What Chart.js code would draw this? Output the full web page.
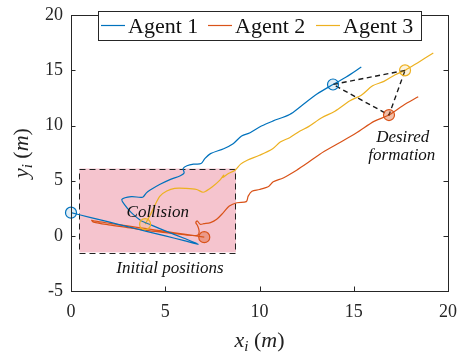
<!DOCTYPE html>
<html>
<head>
<meta charset="utf-8">
<script src="https://cdn.jsdelivr.net/npm/chart.js@4.4.1/dist/chart.umd.min.js"></script>
<style>
  html, body { margin: 0; padding: 0; background: #fff; }
  #grafico { display: block; }
</style>
</head>
<body>
<canvas id="grafico" width="470" height="359"></canvas>
<script>
// --- dados ---
const agentNames = ['Agent 1', 'Agent 2', 'Agent 3'];
const agentColors = ['#0072BD', '#D95319', '#EDB120'];

const agent1X = [0, 1, 2, 3, 4, 5, 6, 6.75, 6.0, 5.0, 4.3, 3.7, 3.2, 2.85, 2.7, 3.2, 3.8, 4.0, 4.2, 4.7, 5.25, 5.8, 6.0, 5.95, 6.15, 6.5, 6.9, 7.1, 7.4, 8.1, 8.6, 9.05, 9.5, 10.1, 10.7, 11.6, 12.2, 13.05, 13.9, 14.6, 15.4];
const agent1Y = [2.1, 1.68, 1.26, 0.83, 0.41, -0.01, -0.43, -0.75, -0.22, 0.45, 0.95, 1.4, 2.1, 2.8, 3.3, 3.55, 3.5, 3.9, 4.15, 4.65, 5.1, 5.45, 5.7, 6.1, 6.35, 6.5, 6.55, 7.0, 7.45, 7.9, 8.35, 9.05, 9.35, 9.95, 10.4, 11.0, 11.75, 12.85, 13.72, 14.4, 15.3];

const agent2X = [7.07, 6.0, 5.0, 4.0, 3.0, 2.0, 1.3, 1.1, 1.2, 2.0, 3.0, 4.0, 5.0, 6.0, 6.7, 6.8, 6.72, 6.62, 6.7, 6.85, 7.05, 7.4, 7.73, 8.08, 8.4, 8.8, 9.3, 9.4, 9.6, 10.0, 10.5, 10.73, 11.26, 11.97, 12.5, 13.2, 14.1, 15.15, 16.1, 16.87, 17.6, 18.42];
const agent2Y = [-0.12, 0.15, 0.4, 0.65, 0.9, 1.15, 1.33, 1.4, 1.25, 1.0, 0.75, 0.5, 0.3, 0.1, 0.05, 0.4, 0.9, 1.2, 1.35, 1.05, 1.1, 1.2, 1.5, 2.1, 2.7, 3.0, 3.1, 3.6, 4.05, 4.2, 4.5, 4.9, 5.25, 5.95, 6.55, 7.4, 8.3, 9.35, 10.4, 10.95, 11.8, 12.6];

const agent3X = [3.93, 4.2, 4.4, 4.72, 5.08, 5.5, 6.1, 6.67, 7.0, 7.2, 7.5, 7.9, 8.1, 8.05, 8.35, 8.7, 9.0, 9.35, 10.0, 10.7, 11.1, 11.6, 12.15, 12.6, 13.3, 14.0, 14.8, 15.4, 16.0, 16.6, 17.2, 17.72, 18.4, 19.22];
const agent3Y = [1.06, 1.86, 2.6, 3.6, 4.06, 4.3, 4.3, 4.2, 3.95, 4.1, 4.45, 5.05, 5.5, 5.3, 5.65, 5.95, 6.5, 6.85, 7.3, 7.9, 8.5, 8.9, 9.5, 9.9, 10.7, 11.3, 12.25, 12.75, 13.6, 14.0, 14.6, 15.0, 15.7, 16.57];

// posicoes iniciais e formacao desejada (Agent 1, Agent 2, Agent 3)
const startX = [0, 7.07, 3.93];
const startY = [2.1, -0.12, 1.06];
const finalX = [13.9, 16.87, 17.72];
const finalY = [13.72, 10.95, 15.0];

// regiao das posicoes iniciais
const regionX = [0.45, 8.75];
const regionY = [-1.5, 6.1];

// anotacoes
const noteTexts = ['Collision', 'Initial positions', 'Desired', 'formation'];
const noteX = [4.6, 5.25, 17.6, 17.55];
const noteY = [2.15, -3.0, 8.92, 7.3];

const xTicks = [0, 5, 10, 15, 20];
const yTicks = [-5, 0, 5, 10, 15, 20];

const FONTE = "'Liberation Serif', 'Times New Roman', serif";
const EIXO = '#262626';

function pontos(xs, ys) {
    return xs.map((x, i) => ({ x: x, y: ys[i] }));
}

function trajetoria(i, xs, ys) {
    return {
        label: agentNames[i],
        data: pontos(xs, ys),
        showLine: true,
        borderColor: agentColors[i],
        borderWidth: 1.2,
        pointRadius: 0,
        tension: 0.3,
        order: 5
    };
}

function marcador(xs, ys, i, fill) {
    return {
        label: 'm',
        data: [{ x: xs[i], y: ys[i] }],
        showLine: false,
        pointRadius: 5.5,
        pointBorderWidth: 1.2,
        pointBorderColor: agentColors[i],
        pointBackgroundColor: fill,
        clip: false,
        order: 1
    };
}

const preenchimentos = ['rgba(0,114,189,0.12)', 'rgba(217,83,25,0.38)', 'rgba(237,177,32,0.15)'];

// arestas da formacao (pontilhadas)
const formacao = {
    label: 'formacao',
    data: [
        { x: finalX[2], y: finalY[2] }, { x: finalX[0], y: finalY[0] },
        { x: finalX[1], y: finalY[1] }, { x: finalX[2], y: finalY[2] }
    ],
    showLine: true,
    borderColor: '#1a1a1a',
    borderWidth: 1.4,
    borderDash: [5, 3.5],
    pointRadius: 0,
    order: 2
};

// --- plugins de desenho ---
const regiaoPlugin = {
    id: 'regiao',
    beforeDatasetsDraw(chart) {
        const { ctx, scales: { x, y } } = chart;
        const x0 = x.getPixelForValue(regionX[0]), x1 = x.getPixelForValue(regionX[1]);
        const y0 = y.getPixelForValue(regionY[1]), y1 = y.getPixelForValue(regionY[0]);
        ctx.save();
        ctx.fillStyle = '#F5C4CE';
        ctx.fillRect(x0, y0, x1 - x0, y1 - y0);
        ctx.setLineDash([6, 4]);
        ctx.strokeStyle = '#222';
        ctx.lineWidth = 1;
        ctx.strokeRect(Math.round(x0) + 0.5, Math.round(y0) + 0.5, Math.round(x1 - x0), Math.round(y1 - y0));
        ctx.restore();
    }
};

function desenhaMath(ctx, partes, cx, base) {
    let largura = 0;
    partes.forEach(p => {
        ctx.font = p.f;
        largura += ctx.measureText(p.t).width;
    });
    let px = cx - largura / 2;
    partes.forEach(p => {
        ctx.font = p.f;
        ctx.fillText(p.t, px, base + (p.dy || 0));
        px += ctx.measureText(p.t).width;
    });
}

const molduraPlugin = {
    id: 'moldura',
    afterDatasetsDraw(chart) {
        const { ctx, scales: { x, y } } = chart;
        ctx.save();
        ctx.fillStyle = '#111';
        ctx.font = 'italic 17px ' + FONTE;
        ctx.textAlign = 'center';
        ctx.textBaseline = 'middle';
        noteTexts.forEach((t, i) => {
            ctx.fillText(t, x.getPixelForValue(noteX[i]), y.getPixelForValue(noteY[i]));
        });
        ctx.restore();
    },
    afterDraw(chart) {
        const { ctx, chartArea: a, scales: { x, y } } = chart;
        ctx.save();
        ctx.strokeStyle = EIXO;
        ctx.lineWidth = 1;
        ctx.strokeRect(Math.round(a.left) + 0.5, Math.round(a.top) + 0.5, Math.round(a.right - a.left), Math.round(a.bottom - a.top));
        // ticks para dentro
        const tl = 4.5;
        ctx.beginPath();
        xTicks.forEach(v => {
            const px = Math.round(x.getPixelForValue(v)) + 0.5;
            ctx.moveTo(px, a.bottom); ctx.lineTo(px, a.bottom - tl);
            ctx.moveTo(px, a.top); ctx.lineTo(px, a.top + tl);
        });
        yTicks.forEach(v => {
            const py = Math.round(y.getPixelForValue(v)) + 0.5;
            ctx.moveTo(a.left, py); ctx.lineTo(a.left + tl, py);
            ctx.moveTo(a.right, py); ctx.lineTo(a.right - tl, py);
        });
        ctx.stroke();

        // legenda com caixa
        const lx = 98.5, ly = 11.5, lw = 323, lh = 29;
        ctx.fillStyle = '#fff';
        ctx.fillRect(lx, ly, lw, lh);
        ctx.strokeStyle = EIXO;
        ctx.strokeRect(lx, ly, lw, lh);
        const inicio = [101, 208, 316];
        ctx.font = '22px ' + FONTE;
        ctx.textBaseline = 'alphabetic';
        ctx.textAlign = 'left';
        agentNames.forEach((nome, i) => {
            ctx.strokeStyle = agentColors[i];
            ctx.lineWidth = 1.2;
            ctx.beginPath();
            ctx.moveTo(inicio[i], 25.5);
            ctx.lineTo(inicio[i] + 24, 25.5);
            ctx.stroke();
            ctx.fillStyle = '#111';
            ctx.fillText(nome, inicio[i] + 27, 32.5);
        });

        // titulos dos eixos
        ctx.fillStyle = '#222';
        const cx = (a.left + a.right) / 2;
        desenhaMath(ctx, [
            { t: 'x', f: 'italic 22px ' + FONTE },
            { t: 'i', f: 'italic 15px ' + FONTE, dy: 4 },
            { t: ' (', f: '22px ' + FONTE },
            { t: 'm', f: 'italic 22px ' + FONTE },
            { t: ')', f: '22px ' + FONTE }
        ], cx, 347);
        ctx.save();
        ctx.translate(28, (a.top + a.bottom) / 2);
        ctx.rotate(-Math.PI / 2);
        desenhaMath(ctx, [
            { t: 'y', f: 'italic 22px ' + FONTE },
            { t: 'i', f: 'italic 15px ' + FONTE, dy: 4 },
            { t: ' (', f: '22px ' + FONTE },
            { t: 'm', f: 'italic 22px ' + FONTE },
            { t: ')', f: '22px ' + FONTE }
        ], 0, 0);
        ctx.restore();
        ctx.restore();
    }
};

new Chart(document.getElementById('grafico'), {
    type: 'scatter',
    data: {
        datasets: [
            trajetoria(0, agent1X, agent1Y),
            trajetoria(1, agent2X, agent2Y),
            trajetoria(2, agent3X, agent3Y),
            formacao,
            marcador(startX, startY, 0, preenchimentos[0]),
            marcador(startX, startY, 1, preenchimentos[1]),
            marcador(startX, startY, 2, preenchimentos[2]),
            marcador(finalX, finalY, 0, preenchimentos[0]),
            marcador(finalX, finalY, 1, preenchimentos[1]),
            marcador(finalX, finalY, 2, preenchimentos[2])
        ]
    },
    options: {
        responsive: false,
        devicePixelRatio: 1,
        animation: false,
        layout: { padding: { top: 7, right: 22, left: 0, bottom: 0 } },
        plugins: { legend: { display: false }, tooltip: { enabled: false } },
        scales: {
            x: {
                type: 'linear', min: 0, max: 20,
                ticks: { stepSize: 5, color: EIXO, font: { family: FONTE, size: 18 }, padding: 10, maxRotation: 0 },
                grid: { drawOnChartArea: false, drawTicks: false },
                border: { color: EIXO, width: 1 },
                afterFit: s => { s.height = 68; }
            },
            y: {
                type: 'linear', min: -5, max: 20,
                ticks: { stepSize: 5, color: EIXO, font: { family: FONTE, size: 18, lineHeight: 0.8 }, padding: 8 },
                grid: { drawOnChartArea: false, drawTicks: false },
                border: { color: EIXO, width: 1 },
                afterFit: s => { s.width = 71; }
            }
        }
    },
    plugins: [regiaoPlugin, molduraPlugin]
});
</script>
</body>
</html>
